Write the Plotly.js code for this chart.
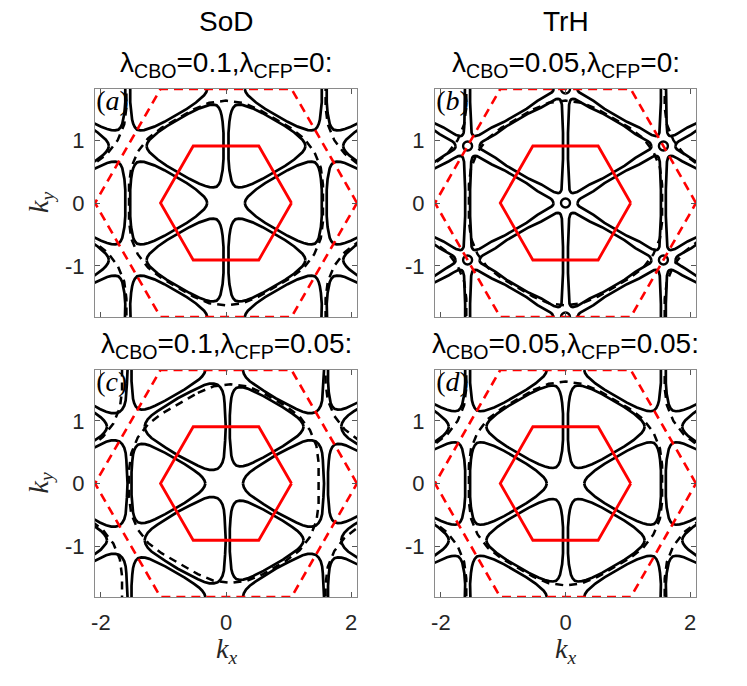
<!DOCTYPE html>
<html><head><meta charset="utf-8">
<script src="https://cdn.plot.ly/plotly-3.0.1.min.js"></script>
<style>body{margin:0;background:#fff}#chart{width:747px;height:686px}</style>
</head><body><div id="chart"></div>
<script>
// ---------- data ----------
// reduced (2x2) Brillouin zone : solid red hexagon
const bzSmallX = [1.047, 0.524, -0.524, -1.047, -0.524, 0.524, 1.047];
const bzSmallY = [0, 0.907, 0.907, 0, -0.907, -0.907, 0];
// original Brillouin zone : dashed red hexagon
const bzLargeX = [2.094, 1.047, -1.047, -2.094, -1.047, 1.047, 2.094];
const bzLargeY = [0, 1.814, 1.814, 0, -1.814, -1.814, 0];

// centres of the triangular pockets (two orientations)
const cRx = [-1.047, -1.047, -1.047, 0.524, 0.524, 2.094, 2.094, 2.094, -2.618, -2.618];
const cRy = [0, 1.814, -1.814, 0.907, -0.907, 0, 1.814, -1.814, 0.907, -0.907];
const cLx = [-0.524, -0.524, 1.047, 1.047, 1.047, -2.094, -2.094, -2.094, 2.618, 2.618];
const cLy = [0.907, -0.907, 0, 1.814, -1.814, 0, 1.814, -1.814, 0.907, -0.907];
// centres of the dashed (unreconstructed) Fermi surfaces
const hcX = [0, -3.142, -3.142, 3.142, 3.142];
const hcY = [0, 1.814, -1.814, 1.814, -1.814];
// Gamma points : small circles in panel (b)
const gX = [0, 0, 0, -1.571, -1.571, 1.571, 1.571];
const gY = [0, 1.814, -1.814, 0.907, -0.907, 0.907, -0.907];

// pocket outline (relative to its centre), panels (a) and (d)
const aPocketX = [0.747, 0.732, 0.697, 0.647, 0.567, 0.421, 0.062, -0.098, -0.194, -0.262, -0.323, -0.374, -0.410, -0.436, -0.454, -0.470, -0.484, -0.484, -0.470, -0.454, -0.436, -0.410, -0.374, -0.323, -0.262, -0.194, -0.098, 0.062, 0.421, 0.567, 0.647, 0.697, 0.732, 0.747];
const aPocketY = [0, 0.05, 0.10, 0.15, 0.215, 0.315, 0.522, 0.599, 0.636, 0.654, 0.659, 0.647, 0.609, 0.554, 0.486, 0.384, 0.208, -0.208, -0.384, -0.486, -0.554, -0.609, -0.647, -0.659, -0.654, -0.636, -0.599, -0.522, -0.315, -0.215, -0.15, -0.10, -0.05, 0];
// panel (b): sharp pockets
const bPocketX = [0.857, 0.850, 0.832, 0.802, 0.757, 0.687, 0.597, 0.421, 0.062, -0.135, -0.223, -0.292, -0.337, -0.373, -0.404, -0.429, -0.447, -0.460, -0.466, -0.468, -0.472, -0.477, -0.484, -0.484, -0.477, -0.472, -0.468, -0.466, -0.460, -0.447, -0.429, -0.404, -0.373, -0.337, -0.292, -0.223, -0.135, 0.062, 0.421, 0.597, 0.687, 0.757, 0.802, 0.832, 0.850, 0.857];
const bPocketY = [0, 0.025, 0.05, 0.075, 0.10, 0.14, 0.19, 0.315, 0.522, 0.612, 0.665, 0.706, 0.732, 0.746, 0.749, 0.743, 0.724, 0.696, 0.657, 0.606, 0.525, 0.422, 0.208, -0.208, -0.422, -0.525, -0.606, -0.657, -0.696, -0.724, -0.743, -0.749, -0.746, -0.732, -0.706, -0.665, -0.612, -0.522, -0.315, -0.19, -0.14, -0.10, -0.075, -0.05, -0.025, 0];
// panel (c): thin pockets and fat pockets
const cPocketRX = [0.717, 0.702, 0.667, 0.617, 0.537, 0.387, 0.075, -0.087, -0.179, -0.247, -0.308, -0.359, -0.395, -0.421, -0.439, -0.451, -0.463, -0.463, -0.451, -0.439, -0.421, -0.395, -0.359, -0.308, -0.247, -0.179, -0.087, 0.075, 0.387, 0.537, 0.617, 0.667, 0.702, 0.717];
const cPocketRY = [0, 0.05, 0.10, 0.15, 0.21, 0.31, 0.49, 0.570, 0.610, 0.628, 0.633, 0.621, 0.583, 0.528, 0.460, 0.360, 0.180, -0.180, -0.360, -0.460, -0.528, -0.583, -0.621, -0.633, -0.628, -0.610, -0.570, -0.49, -0.31, -0.21, -0.15, -0.10, -0.05, 0];
const cPocketLX = [-0.777, -0.762, -0.727, -0.667, -0.577, -0.447, -0.247, -0.062, 0.077, 0.178, 0.260, 0.330, 0.389, 0.434, 0.468, 0.490, 0.501, 0.510, 0.520, 0.510, 0.501, 0.490, 0.468, 0.434, 0.389, 0.330, 0.260, 0.178, 0.077, -0.062, -0.247, -0.447, -0.577, -0.667, -0.727, -0.762, -0.777];
const cPocketLY = [0, 0.06, 0.12, 0.18, 0.245, 0.33, 0.455, 0.552, 0.623, 0.668, 0.690, 0.690, 0.673, 0.630, 0.570, 0.488, 0.378, 0.222, 0, -0.222, -0.378, -0.488, -0.570, -0.630, -0.673, -0.690, -0.690, -0.668, -0.623, -0.552, -0.455, -0.33, -0.245, -0.18, -0.12, -0.06, 0];

// dashed Fermi surface outline (relative to its centre)
const fsHexX = [-0.52, -0.269, 0, 0.269, 0.52, 1.030, 1.246, 1.411, 1.515, 1.550, 1.550, 1.515, 1.411, 1.246, 1.030, 0.52, 0.269, 0, -0.269, -0.52, -1.030, -1.246, -1.411, -1.515, -1.550, -1.550, -1.515, -1.411, -1.246, -1.030, -0.52];
const fsHexY = [1.49, 1.594, 1.629, 1.594, 1.49, 1.195, 1.030, 0.815, 0.564, 0.295, -0.295, -0.564, -0.815, -1.030, -1.195, -1.49, -1.594, -1.629, -1.594, -1.49, -1.195, -1.030, -0.815, -0.564, -0.295, 0.295, 0.564, 0.815, 1.030, 1.195, 1.49];
const fsHexCX = [-0.45, -0.199, 0.07, 0.339, 0.59, 0.96, 1.176, 1.341, 1.445, 1.48, 1.48, 1.445, 1.341, 1.176, 0.96, 0.59, 0.339, 0.07, -0.199, -0.45, -1.03, -1.246, -1.411, -1.515, -1.55, -1.55, -1.515, -1.411, -1.246, -1.03, -0.45];
const fsHexCY = [1.449, 1.553, 1.588, 1.553, 1.449, 1.235, 1.07, 0.855, 0.604, 0.335, -0.335, -0.604, -0.855, -1.07, -1.235, -1.449, -1.553, -1.588, -1.553, -1.449, -1.114, -0.949, -0.734, -0.483, -0.214, 0.214, 0.483, 0.734, 0.949, 1.114, 1.449];

const colTitles = ['SoD', 'TrH'];
const panelTitles = ['λ<sub>CBO</sub>=0.1,λ<sub>CFP</sub>=0:', 'λ<sub>CBO</sub>=0.05,λ<sub>CFP</sub>=0:',
                     'λ<sub>CBO</sub>=0.1,λ<sub>CFP</sub>=0.05:', 'λ<sub>CBO</sub>=0.05,λ<sub>CFP</sub>=0.05:'];
const panelLabels = ['a', 'b', 'c', 'd'];
const xTicks = [-2, 0, 2], xTickText = ['-2', '0', '2'];
const yTicks = [-1, 0, 1], yTickText = ['-1', '0', '1'];

// ---------- build ----------
const mirror = a => a.map(v => -v);
function place(tx, ty, cx, cy) {
  const X = [], Y = [];
  for (let i = 0; i < cx.length; i++) {
    for (let j = 0; j < tx.length; j++) { X.push(tx[j] + cx[i]); Y.push(ty[j] + cy[i]); }
    X.push(null); Y.push(null);
  }
  return {X, Y};
}
const panels = [
  {R: [aPocketX, aPocketY], L: [mirror(aPocketX), aPocketY], hex: [fsHexX, fsHexY], circles: false},
  {R: [bPocketX, bPocketY], L: [mirror(bPocketX), bPocketY], hex: [fsHexX, fsHexY], circles: true},
  {R: [cPocketRX, cPocketRY], L: [cPocketLX, cPocketLY], hex: [fsHexCX, fsHexCY], circles: false},
  {R: [aPocketX, aPocketY], L: [mirror(aPocketX), aPocketY], hex: [fsHexX, fsHexY], circles: false}
];
const traces = [];
panels.forEach((p, k) => {
  const xa = k === 0 ? 'x' : 'x' + (k + 1), ya = k === 0 ? 'y' : 'y' + (k + 1);
  traces.push({x: [-2.075], y: [1.59], mode: 'text', text: ['(<i>' + panelLabels[k] + '</i>)'],
    textposition: 'middle right', textfont: {family: 'Liberation Serif', size: 28, color: '#000'},
    cliponaxis: false, xaxis: xa, yaxis: ya, hoverinfo: 'skip'});
  const r = place(p.R[0], p.R[1], cRx, cRy), l = place(p.L[0], p.L[1], cLx, cLy);
  traces.push({x: r.X.concat(l.X), y: r.Y.concat(l.Y), mode: 'lines',
    line: {color: '#000', width: 2.7}, xaxis: xa, yaxis: ya});
  const h = place(p.hex[0], p.hex[1], hcX, hcY);
  traces.push({x: h.X, y: h.Y, mode: 'lines', line: {color: '#000', width: 2.5, dash: '8px,6px'}, xaxis: xa, yaxis: ya});
  if (p.circles) traces.push({x: gX, y: gY, mode: 'markers',
    marker: {symbol: 'circle-open', size: 9, color: '#000', line: {width: 2.4, color: '#000'}}, xaxis: xa, yaxis: ya});
  traces.push({x: bzLargeX, y: bzLargeY, mode: 'lines', line: {color: '#ff0000', width: 2.6, dash: '9px,6px'}, xaxis: xa, yaxis: ya});
  traces.push({x: bzSmallX, y: bzSmallY, mode: 'lines', line: {color: '#ff0000', width: 2.8}, xaxis: xa, yaxis: ya});
});

const tickFont = {family: 'Liberation Sans, Arial, sans-serif', size: 22, color: '#262626'};
function xax(dom, anchor, labels) {
  return {domain: dom, anchor: anchor, range: [-2.094, 2.094], tickmode: 'array', tickvals: xTicks, ticktext: xTickText,
    showticklabels: labels, ticks: 'inside', ticklen: 5, tickcolor: '#555', mirror: 'allticks', showline: true,
    linecolor: '#8a8a8a', linewidth: 1, showgrid: false, zeroline: false, tickfont: tickFont, ticklabelstandoff: 6};
}
function yax(dom, anchor) {
  return {domain: dom, anchor: anchor, range: [-1.814, 1.814], tickmode: 'array', tickvals: yTicks, ticktext: yTickText,
    ticks: 'inside', ticklen: 5, tickcolor: '#555', mirror: 'allticks', showline: true,
    linecolor: '#8a8a8a', linewidth: 1, showgrid: false, zeroline: false, tickfont: tickFont, ticklabelstandoff: 5};
}
const c1 = [95 / 747, 357 / 747], c2 = [435 / 747, 696 / 747];
const r1 = [1 - 317 / 686, 1 - 89 / 686], r2 = [1 - 597 / 686, 1 - 370 / 686];
const titleFont = {family: 'Liberation Sans, Arial, sans-serif', size: 28, color: '#000'};
const mathFont = {family: 'Liberation Serif, Times New Roman, serif', size: 28, color: '#262626'};
const ann = [];
const colX = [(c1[0] + c1[1]) / 2, (c2[0] + c2[1]) / 2];
function note(text, x, y, font, extra) {
  ann.push(Object.assign({text: text, x: x, y: y, xref: 'paper', yref: 'paper', xanchor: 'center', yanchor: 'middle',
    showarrow: false, font: font}, extra || {}));
}
colTitles.forEach((t, i) => note(t, colX[i], 1 - 22 / 686, titleFont));
panelTitles.forEach((t, i) => note(t, colX[i % 2], i < 2 ? 1 - 64 / 686 : 1 - 345 / 686,
  {family: titleFont.family, size: 28, color: '#000'}));
[(r1[0] + r1[1]) / 2, (r2[0] + r2[1]) / 2].forEach(yy => note('<i>k</i><sub><i>y</i></sub>', 40 / 747, yy, mathFont, {textangle: -90}));
colX.forEach(xx => note('<i>k</i><sub><i>x</i></sub>', xx, 1 - 650 / 686, mathFont));

const layout = {
  width: 747, height: 686, margin: {l: 0, r: 0, t: 0, b: 0}, showlegend: false,
  paper_bgcolor: '#fff', plot_bgcolor: '#fff',
  xaxis: xax(c1, 'y', false), yaxis: yax(r1, 'x'),
  xaxis2: xax(c2, 'y2', false), yaxis2: yax(r1, 'x2'),
  xaxis3: xax(c1, 'y3', true), yaxis3: yax(r2, 'x3'),
  xaxis4: xax(c2, 'y4', true), yaxis4: yax(r2, 'x4'),
  annotations: ann
};
Plotly.newPlot('chart', traces, layout, {staticPlot: true});
</script></body></html>
